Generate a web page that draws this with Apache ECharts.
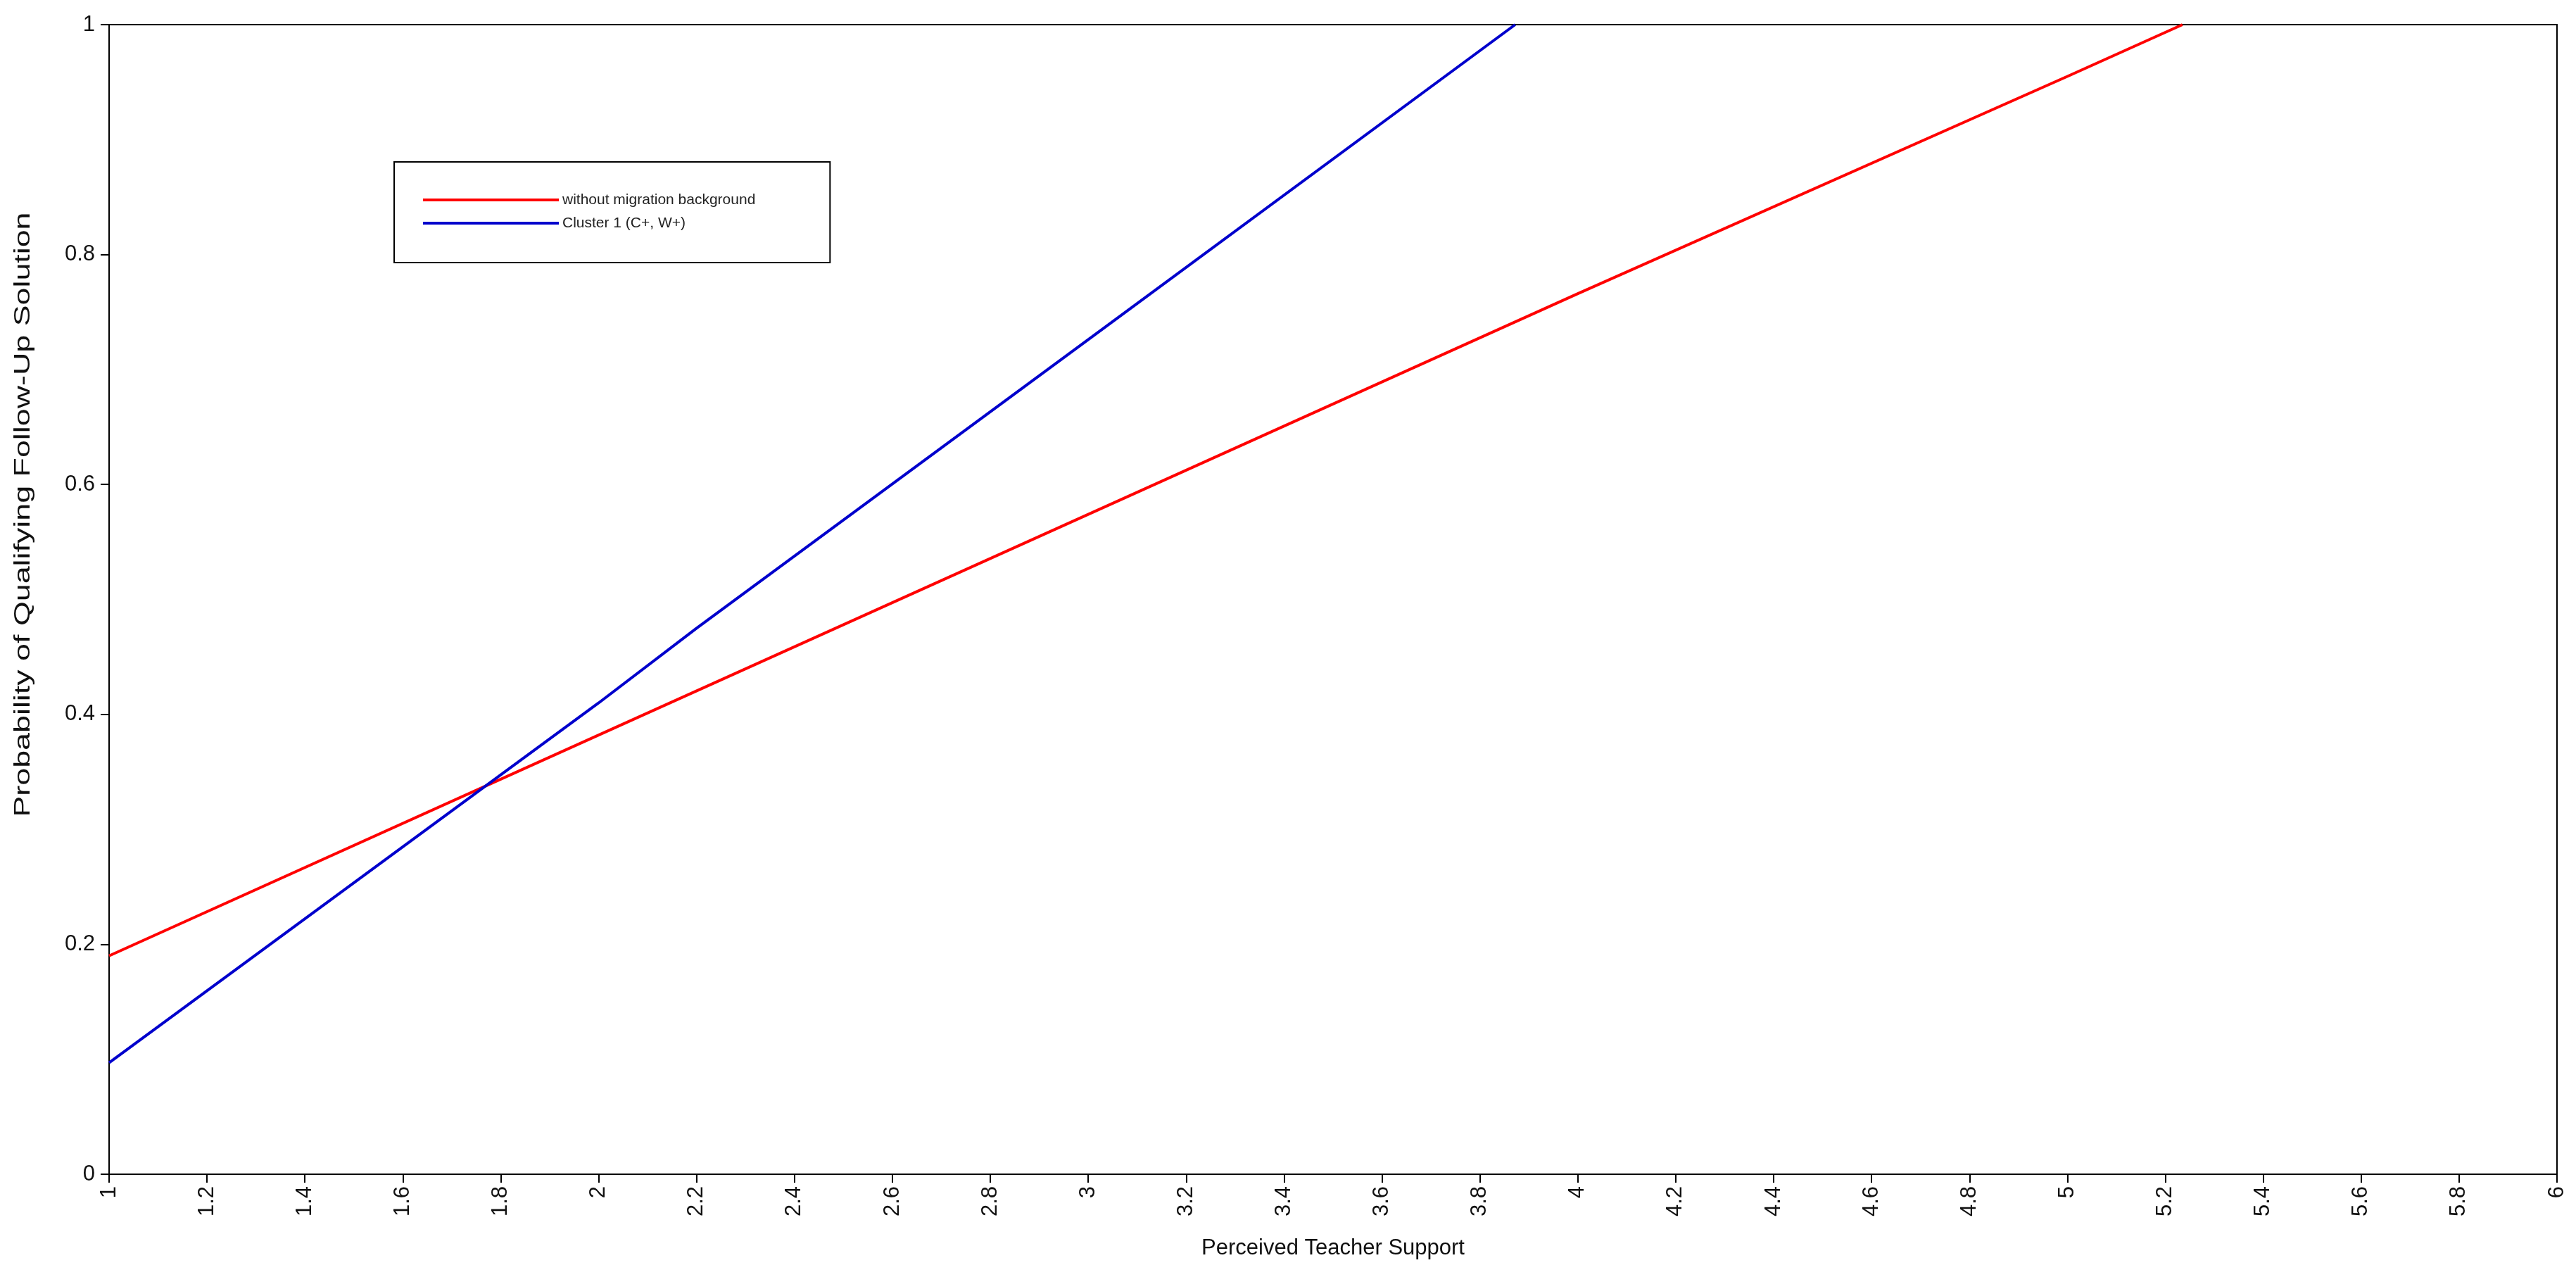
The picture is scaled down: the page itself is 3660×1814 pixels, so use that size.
<!DOCTYPE html>
<html>
<head>
    <meta charset="utf-8">
    <title>Perceived Teacher Support</title>
    <script src="https://cdn.jsdelivr.net/npm/echarts@6/dist/echarts.min.js"></script>
    <style>
        html, body {
            margin: 0;
            padding: 0;
            background: #ffffff;
        }

        #chart {
            width: 3660px;
            height: 1814px;
        }
    </style>
</head>
<body>
<div id="chart"></div>
<script>
    // values
    var seriesNames = ['without migration background', 'Cluster 1 (C+, W+)'];
    var redX = [1, 2, 3, 4, 5, 5.235];
    var redY = [0.19, 0.382, 0.574, 0.766, 0.955, 1.0];
    var blueX = [1, 2, 2.2, 3, 3.872];
    var blueY = [0.097, 0.41, 0.475, 0.726, 1.0];
    var xTitle = 'Perceived Teacher Support';
    var yTitle = 'Probability of Qualifying Follow-Up Solution';

    function pairs(xs, ys) {
        var out = [];
        for (var i = 0; i < xs.length; i++) {
            out.push([xs[i], ys[i]]);
        }
        return out;
    }

    var font = 'Liberation Sans, Arial, sans-serif';
    var chart = echarts.init(document.getElementById('chart'), null, {renderer: 'canvas'});

    var option = {
        backgroundColor: '#ffffff',
        animation: false,
        grid: {
            left: 155,
            right: 27,
            top: 35,
            bottom: 146,
            show: true,
            borderColor: '#000',
            borderWidth: 2
        },
        legend: {
            orient: 'vertical',
            left: 560,
            top: 230,
            padding: [43, 106, 45, 41],
            itemWidth: 193,
            itemHeight: 4,
            itemGap: 11,
            icon: 'rect',
            borderColor: '#000',
            borderWidth: 2,
            backgroundColor: '#fff',
            textStyle: {
                fontFamily: font,
                fontSize: 21,
                lineHeight: 22,
                color: '#222'
            },
            data: seriesNames
        },
        // y title is stretched along its length in the original, so draw it as a graphic
        graphic: [{
            type: 'text',
            x: 33,
            y: 731,
            rotation: Math.PI / 2,
            scaleX: 1.4,
            style: {
                text: yTitle,
                fontFamily: font,
                fontSize: 32,
                fill: '#111',
                align: 'center',
                verticalAlign: 'middle'
            }
        }],
        xAxis: {
            type: 'value',
            min: 1,
            max: 6,
            interval: 0.2,
            name: xTitle,
            nameLocation: 'middle',
            nameGap: 90,
            nameTextStyle: {fontFamily: font, fontSize: 31, color: '#111'},
            axisLine: {lineStyle: {color: '#000', width: 2}},
            axisTick: {length: 12, lineStyle: {color: '#000', width: 2}},
            axisLabel: {
                rotate: 90,
                margin: 17,
                fontFamily: font,
                fontSize: 31,
                color: '#111'
            },
            splitLine: {show: false}
        },
        yAxis: {
            type: 'value',
            min: 0,
            max: 1,
            interval: 0.2,
            axisLine: {lineStyle: {color: '#000', width: 2}},
            axisTick: {length: 12, lineStyle: {color: '#000', width: 2}},
            axisLabel: {
                margin: 20,
                fontFamily: font,
                fontSize: 31,
                color: '#111'
            },
            splitLine: {show: false}
        },
        series: [
            {
                name: seriesNames[0],
                type: 'line',
                data: pairs(redX, redY),
                showSymbol: false,
                color: '#ff0000',
                lineStyle: {color: '#ff0000', width: 4}
            },
            {
                name: seriesNames[1],
                type: 'line',
                data: pairs(blueX, blueY),
                showSymbol: false,
                color: '#0000cc',
                lineStyle: {color: '#0000cc', width: 4}
            }
        ]
    };
    chart.setOption(option);
</script>
</body>
</html>
